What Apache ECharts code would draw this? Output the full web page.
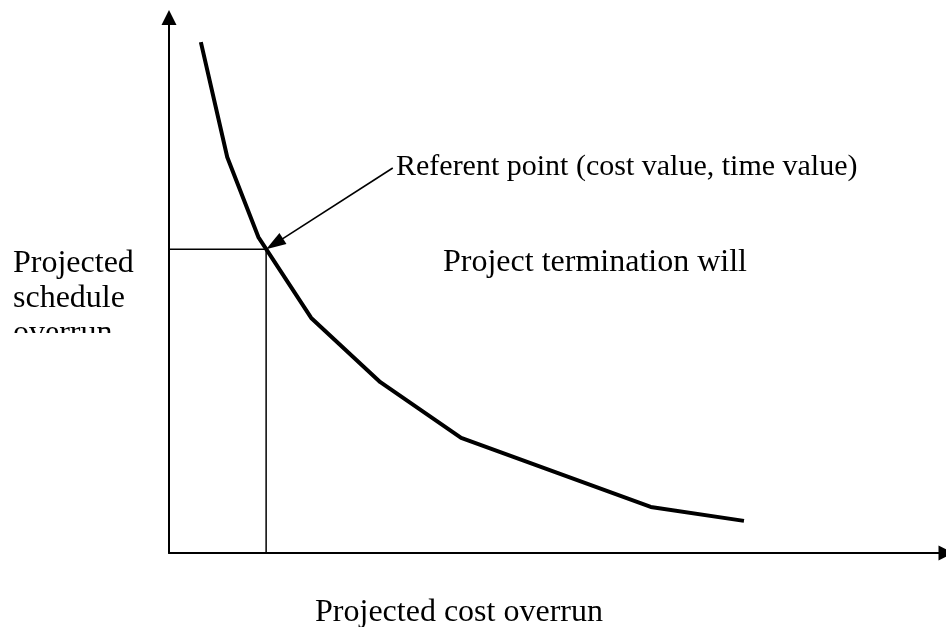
<!DOCTYPE html>
<html>
<head>
<meta charset="utf-8">
<script src="https://cdn.jsdelivr.net/npm/echarts@6/dist/echarts.min.js"></script>
<style>
  html, body { margin: 0; padding: 0; background: #fff; }
  #chart { width: 946px; height: 627px; }
</style>
</head>
<body>
<div id="chart"></div>
<script>
// Trade-off curve: projected cost overrun (x) vs projected schedule overrun (y), arbitrary units
const costOverrun     = [4.1, 7.5, 11.5, 18.3, 27.2, 37.6, 62.0, 74.0];
const scheduleOverrun = [95.4, 73.9, 59.0, 43.9, 31.9, 21.5, 8.6, 6.0];

// Referent point (cost value, time value) and where its callout arrow starts
const referentPoint = [12.5, 56.7];
const calloutStart  = [28.8, 71.9];

// Text
const xAxisTitle   = 'Projected cost overrun';
const yAxisTitle   = 'Projected\nschedule\noverrun';
const calloutText  = 'Referent point (cost value, time value)';
const regionText   = 'Project termination will';

const FONT = '"Liberation Serif", "Times New Roman", serif';

const chart = echarts.init(document.getElementById('chart'), null, { renderer: 'canvas' });

const curveData = costOverrun.map((c, i) => [c, scheduleOverrun[i]]);
const guideData = [
  [0, referentPoint[1]],
  [referentPoint[0], referentPoint[1]],
  [referentPoint[0], 0]
];
const calloutData = [[calloutStart[0], calloutStart[1], referentPoint[0], referentPoint[1]]];

const axisCommon = {
  type: 'value',
  min: 0,
  max: 100,
  axisLine: {
    show: true,
    onZero: false,
    symbol: ['none', 'triangle'],
    symbolSize: [15, 15],
    lineStyle: { color: '#000', width: 2 }
  },
  axisTick: { show: false },
  axisLabel: { show: false },
  splitLine: { show: false }
};

// Straight callout line ending in a filled arrowhead whose tip sits on the target point
function renderCallout(params, api) {
  const p0 = api.coord([api.value(0), api.value(1)]);
  const p1 = api.coord([api.value(2), api.value(3)]);
  const dx = p1[0] - p0[0];
  const dy = p1[1] - p0[1];
  const len = Math.sqrt(dx * dx + dy * dy);
  const ux = dx / len, uy = dy / len;
  const headLen = 20, headHalf = 6.5;
  const bx = p1[0] - ux * headLen, by = p1[1] - uy * headLen;
  return {
    type: 'group',
    children: [
      {
        type: 'line',
        shape: { x1: p0[0], y1: p0[1], x2: bx + ux * 2, y2: by + uy * 2 },
        style: { stroke: '#000', lineWidth: 1.6 }
      },
      {
        type: 'polygon',
        shape: {
          points: [
            [p1[0], p1[1]],
            [bx - uy * headHalf, by + ux * headHalf],
            [bx + uy * headHalf, by - ux * headHalf]
          ]
        },
        style: { fill: '#000' }
      }
    ]
  };
}

chart.setOption({
  animation: false,
  backgroundColor: '#fff',
  grid: {
    left: 169,
    right: 0,
    top: 17.5,
    bottom: 74,
    containLabel: false,
    outerBoundsMode: 'none'
  },
  xAxis: Object.assign({}, axisCommon),
  yAxis: Object.assign({}, axisCommon),
  series: [
    {
      type: 'line',
      name: 'guides',
      data: guideData,
      symbol: 'none',
      lineStyle: { color: '#000', width: 1.5 },
      z: 2
    },
    {
      type: 'line',
      name: 'curve',
      data: curveData,
      symbol: 'none',
      lineStyle: { color: '#000', width: 4, join: 'round', cap: 'butt' },
      z: 3
    },
    {
      type: 'custom',
      name: 'callout',
      data: calloutData,
      encode: { x: [0, 2], y: [1, 3] },
      renderItem: renderCallout,
      clip: false,
      z: 4
    }
  ],
  graphic: [
    {
      type: 'text',
      left: 13,
      top: 245.7,
      style: {
        text: yAxisTitle,
        font: '32px ' + FONT,
        lineHeight: 35,
        fill: '#000'
      },
      z: 10
    },
    {
      // lower part of the y title sits under a white band
      type: 'rect',
      shape: { x: 0, y: 333, width: 160, height: 60 },
      style: { fill: '#fff' },
      z: 11
    },
    {
      type: 'text',
      x: 396,
      y: 167,
      style: {
        text: calloutText,
        font: '30px ' + FONT,
        verticalAlign: 'middle',
        fill: '#000'
      },
      z: 10
    },
    {
      type: 'text',
      x: 443,
      y: 263,
      style: {
        text: regionText,
        font: '32px ' + FONT,
        verticalAlign: 'middle',
        fill: '#000'
      },
      z: 10
    },
    {
      type: 'text',
      x: 459,
      y: 613,
      style: {
        text: xAxisTitle,
        font: '32px ' + FONT,
        align: 'center',
        verticalAlign: 'middle',
        fill: '#000'
      },
      z: 10
    }
  ]
});
</script>
</body>
</html>
